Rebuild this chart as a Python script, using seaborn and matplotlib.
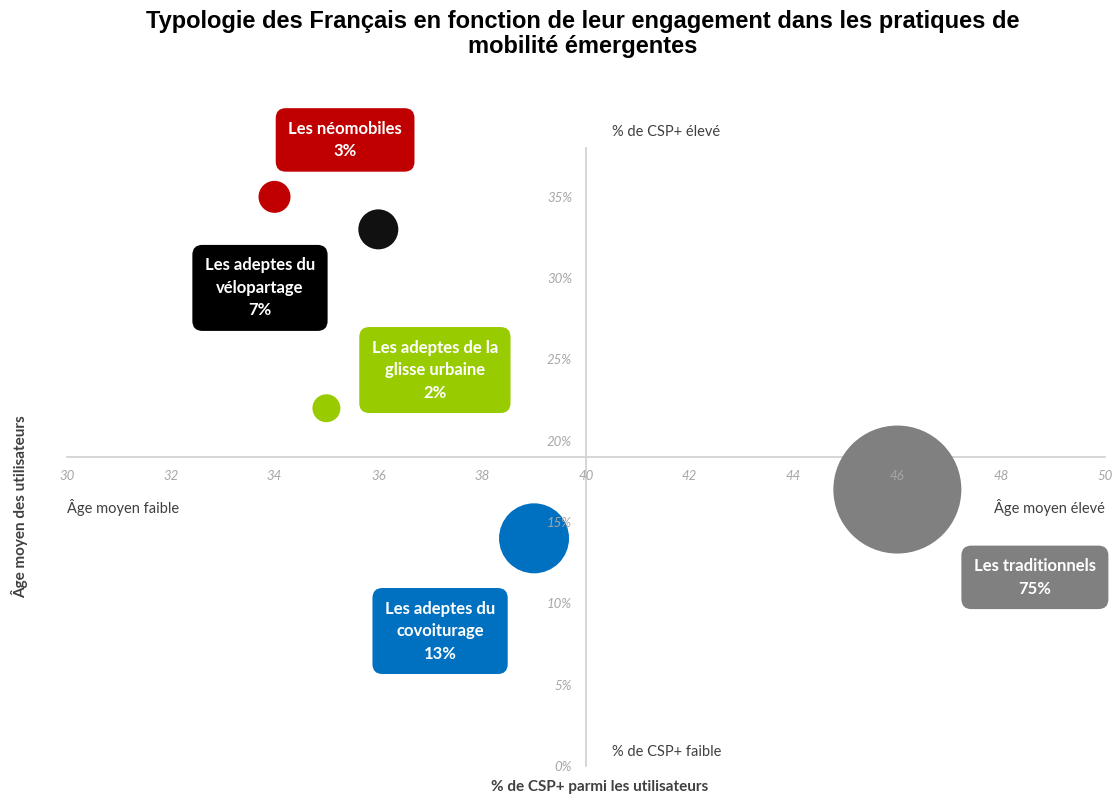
import matplotlib
matplotlib.use("Agg")
import matplotlib.pyplot as plt
import seaborn as sns
import pandas as pd

# ---- data ----
groups = ["Les néomobiles", "Les adeptes du\nvélopartage", "Les adeptes de la\nglisse urbaine",
          "Les adeptes du\ncovoiturage", "Les traditionnels"]
age_moyen = [34, 36, 35, 39, 46]
pct_csp = [35, 33, 22, 14, 17]
share = [3, 7, 2, 13, 75]
colors = ["#C00000", "#111111", "#99CC00", "#0070C0", "#808080"]
box_colors = ["#C00000", "#000000", "#99CC00", "#0070C0", "#808080"]
x_ticks = [30, 32, 34, 36, 38, 40, 42, 44, 46, 48, 50]
y_ticks = [0, 5, 10, 15, 20, 25, 30, 35]
x_cross = 19   # horizontal axis crosses the y axis at 19 %
y_cross = 40   # vertical axis crosses the x axis at 40 ans

# label positions (annotation placement)
label_x = [35.36, 33.72, 37.09, 37.19, 48.65]
label_y = [38.5, 29.4, 24.35, 8.3, 11.6]
marker_area = {"Les néomobiles": 531, "Les adeptes du\nvélopartage": 829,
               "Les adeptes de la\nglisse urbaine": 406, "Les adeptes du\ncovoiturage": 2540,
               "Les traditionnels": 8493}

df = pd.DataFrame({"groupe": groups, "age": age_moyen, "csp": pct_csp, "part": share})

sns.set_theme(style="white")
plt.rcParams["font.family"] = ["Lato", "DejaVu Sans"]

fig = plt.figure(figsize=(11.15, 7.96), dpi=100)
ax = fig.add_axes([0.060, 0.0377, 0.931, 0.7763])

sns.scatterplot(data=df, x="age", y="csp", hue="groupe", palette=dict(zip(groups, colors)),
                size="groupe", sizes=marker_area, legend=False, linewidth=0, ax=ax, zorder=2)

ax.set_xlim(30, 50)
ax.set_ylim(0, 38)
ax.set_xticks(x_ticks)
ax.set_xticklabels([str(v) for v in x_ticks])
ax.set_yticks(y_ticks)
ax.set_yticklabels([f"{v}%" for v in y_ticks])

for s in ["top", "right"]:
    ax.spines[s].set_visible(False)
ax.spines["left"].set_position(("data", y_cross))
ax.spines["bottom"].set_position(("data", x_cross))
for s in ["left", "bottom"]:
    ax.spines[s].set_color("#d0d0d0")
    ax.spines[s].set_linewidth(1.2)
    ax.spines[s].set_zorder(1)

ax.tick_params(axis="x", direction="inout", length=9, width=1, color="#d0d0d0",
               labelcolor="#a6a6a6", labelsize=9.5, pad=5)
ax.tick_params(axis="y", direction="out", length=5, width=1, color="#d0d0d0",
               labelcolor="#a6a6a6", labelsize=9.5, pad=5)
for lab in ax.get_xticklabels() + ax.get_yticklabels():
    lab.set_fontstyle("italic")
ax.xaxis.set_zorder(2.5)
ax.yaxis.set_zorder(2.5)
ax.set_xlabel("")
ax.set_ylabel("")

# group labels
for g, s, lx, ly, bc in zip(groups, share, label_x, label_y, box_colors):
    ax.text(lx, ly, f"{g}\n{s}%", ha="center", va="center", color="white", fontsize=12,
            fontweight="bold", linespacing=1.5, zorder=4, clip_on=False,
            bbox=dict(boxstyle="round,pad=0.75,rounding_size=0.6", fc=bc, ec="none"))

# quadrant labels
qc = "#404040"
fig.text(612 / 1115, 1 - 132 / 796, "% de CSP+ élevé", ha="left", va="center", fontsize=10.5, color=qc)
fig.text(612 / 1115, 1 - 752 / 796, "% de CSP+ faible", ha="left", va="center", fontsize=10.5, color=qc)
fig.text(67 / 1115, 1 - 508 / 796, "Âge moyen faible", ha="left", va="center", fontsize=10.5, color=qc)
fig.text(1105 / 1115, 1 - 508 / 796, "Âge moyen élevé", ha="right", va="center", fontsize=10.5, color=qc)

# axis titles
fig.text(20 / 1115, 1 - 507 / 796, "Âge moyen des utilisateurs", rotation=90, ha="center", va="center",
         fontsize=11, fontweight="bold", color=qc)
fig.text(600 / 1115, 1 - 787 / 796, "% de CSP+ parmi les utilisateurs", ha="center", va="center",
         fontsize=11, fontweight="bold", color=qc)

fig.text(0.523, 1 - 34 / 796,
         "Typologie des Français en fonction de leur engagement dans les pratiques de\nmobilité émergentes",
         ha="center", va="center", fontsize=17, fontweight="bold", family="Liberation Sans",
         linespacing=1.15, color="black")

fig.savefig("out.png", dpi=100)
